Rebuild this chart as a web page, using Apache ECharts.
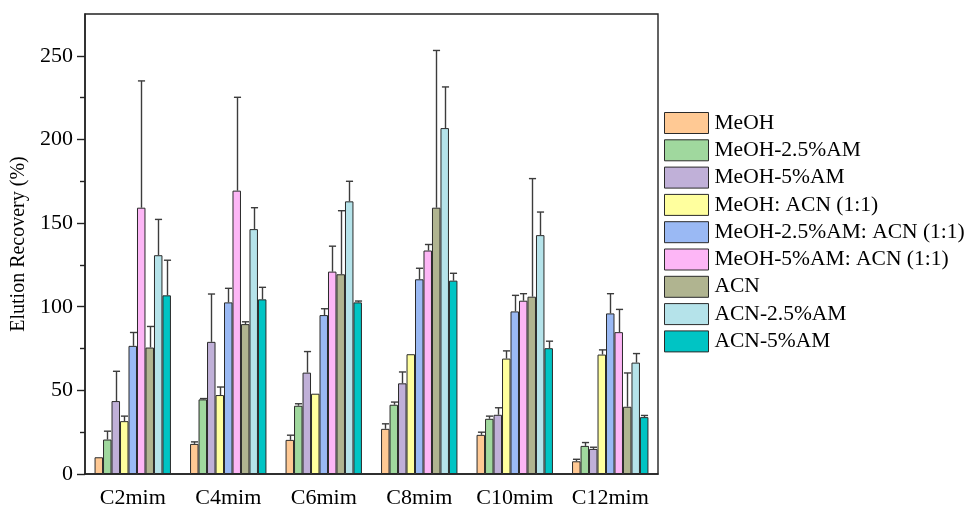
<!DOCTYPE html>
<html>
<head>
<meta charset="utf-8">
<script src="https://cdn.jsdelivr.net/npm/echarts@6/dist/echarts.min.js"></script>
<style>
  html, body { margin: 0; padding: 0; background: #fff; }
  #chart { width: 973px; height: 510px; }
</style>
</head>
<body>
<div id="chart"></div>
<script>
// Ionic-liquid categories on the x axis
const categories = ['C2mim', 'C4mim', 'C6mim', 'C8mim', 'C10mim', 'C12mim'];

// Elution solvents, one bar series each
const solventNames = [
  'MeOH', 'MeOH-2.5%AM', 'MeOH-5%AM', 'MeOH: ACN (1:1)',
  'MeOH-2.5%AM: ACN (1:1)', 'MeOH-5%AM: ACN (1:1)', 'ACN', 'ACN-2.5%AM', 'ACN-5%AM'
];

// Mean recovery (%) per solvent, in category order
const meoh          = [10.0, 18.0, 20.4, 27.0, 23.4, 7.6];
const meoh25        = [20.6, 44.6, 40.8, 41.4, 33.0, 16.8];
const meoh5         = [43.6, 79.0, 60.6, 54.2, 35.4, 15.0];
const meohAcn       = [31.6, 47.2, 48.0, 71.6, 69.0, 71.4];
const meoh25Acn     = [76.6, 102.6, 95.0, 116.4, 97.2, 96.0];
const meoh5Acn      = [159.2, 169.4, 121.0, 133.6, 103.6, 84.8];
const acn           = [75.6, 89.6, 119.4, 159.2, 106.0, 40.2];
const acn25         = [130.8, 146.4, 163.0, 206.8, 142.8, 66.6];
const acn5          = [106.8, 104.4, 102.6, 115.6, 75.2, 34.0];

// Standard deviations (upper error bars)
const meohErr       = [0, 1.2, 2.8, 3.0, 1.6, 1.2];
const meoh25Err     = [5.0, 0.5, 1.2, 1.6, 1.6, 2.0];
const meoh5Err      = [17.8, 28.6, 12.6, 6.8, 4.2, 1.0];
const meohAcnErr    = [3.0, 4.8, 0, 0, 4.6, 2.8];
const meoh25AcnErr  = [8.0, 8.4, 3.8, 6.6, 9.6, 11.8];
const meoh5AcnErr   = [75.8, 55.8, 15.2, 3.6, 4.2, 13.6];
const acnErr        = [12.6, 1.4, 38.0, 94.0, 70.6, 20.2];
const acn25Err      = [21.4, 12.8, 12.0, 24.6, 13.8, 5.4];
const acn5Err       = [21.0, 7.2, 0.8, 4.4, 4.2, 1.0];

// Y axis tick labels
const yMajorTicks = [0, 50, 100, 150, 200, 250];
const yMinorTicks = [25, 75, 125, 175, 225];

const means = [meoh, meoh25, meoh5, meohAcn, meoh25Acn, meoh5Acn, acn, acn25, acn5];
const errs  = [meohErr, meoh25Err, meoh5Err, meohAcnErr, meoh25AcnErr, meoh5AcnErr, acnErr, acn25Err, acn5Err];
const colors = ['#FFC994', '#A0D89E', '#C0B0D8', '#FFFF9E', '#9AB9F4', '#FDB6F6', '#B0B490', '#B5E3EA', '#00C4C4'];

const FONT = '"Liberation Serif", "DejaVu Serif", serif';
const N = solventNames.length;
const CATEGORY_GAP = 0.2;

const series = [];
solventNames.forEach((name, i) => {
  series.push({
    name: name,
    type: 'bar',
    data: means[i],
    barGap: '0%',
    barCategoryGap: (CATEGORY_GAP * 100) + '%',
    itemStyle: { color: colors[i], borderColor: '#2a2a2a', borderWidth: 1 },
    emphasis: { disabled: true },
    z: 2
  });
});

// Upper error bars, positioned over each bar inside its group
solventNames.forEach((name, i) => {
  series.push({
    name: name + ' err',
    type: 'custom',
    z: 3,
    silent: true,
    data: means[i].map((v, k) => [k, v, errs[i][k]]),
    renderItem: function (params, api) {
      const k = api.value(0);
      const v = api.value(1);
      const e = api.value(2);
      if (!e) return null;
      const band = api.size([1, 0])[0];
      const barW = band * (1 - CATEGORY_GAP) / N;
      const base = api.coord([k, v]);
      const top = api.coord([k, v + e]);
      const x = Math.round(base[0] - band * (1 - CATEGORY_GAP) / 2 + (i + 0.5) * barW) + 0.5;
      const half = barW * 0.42;
      const style = { stroke: '#3c3c3c', lineWidth: 1.4 };
      return {
        type: 'group',
        children: [
          { type: 'line', shape: { x1: x, y1: base[1], x2: x, y2: top[1] }, style: style },
          { type: 'line', shape: { x1: x - half, y1: top[1], x2: x + half, y2: top[1] }, style: style }
        ]
      };
    }
  });
});

const chart = echarts.init(document.getElementById('chart'), null, { renderer: 'canvas' });
chart.setOption({
  animation: false,
  backgroundColor: '#fff',
  textStyle: { fontFamily: FONT, color: '#000' },
  grid: {
    left: 85, right: 315, top: 14, bottom: 36,
    show: true, borderColor: '#222', borderWidth: 1.4, backgroundColor: 'transparent'
  },
  legend: {
    orient: 'vertical',
    left: 659,
    top: 107,
    itemWidth: 44,
    itemHeight: 21,
    itemGap: 5.3,
    icon: 'rect',
    data: solventNames,
    itemStyle: { borderColor: '#2a2a2a', borderWidth: 1 },
    textStyle: { fontFamily: FONT, fontSize: 21.5, color: '#000', lineHeight: 22, padding: [0, 0, 0, 1] }
  },
  xAxis: {
    type: 'category',
    data: categories,
    axisLine: { lineStyle: { color: '#222', width: 1.5 } },
    axisTick: { alignWithLabel: true, interval: 0, length: 8, lineStyle: { color: '#222', width: 1.4 } },
    axisLabel: { interval: 0, fontFamily: FONT, fontSize: 22, color: '#000', margin: 13 },
    splitLine: { show: false }
  },
  yAxis: [
    {
      type: 'value',
      min: 0, max: 275, interval: 50,
      name: 'Elution Recovery (%)',
      nameLocation: 'middle',
      nameGap: 52,
      nameTextStyle: { fontFamily: FONT, fontSize: 20, color: '#000' },
      axisLine: { show: true, lineStyle: { color: '#222', width: 1.5 } },
      axisTick: { show: true, length: 8, customValues: yMajorTicks, lineStyle: { color: '#222', width: 1.4 } },
      axisLabel: { fontFamily: FONT, fontSize: 22, color: '#000', margin: 12, customValues: yMajorTicks },
      splitLine: { show: false }
    },
    {
      type: 'value',
      min: 0, max: 275, interval: 25,
      position: 'left',
      axisLine: { show: false },
      axisTick: { show: true, length: 5, customValues: yMinorTicks, lineStyle: { color: '#222', width: 1.4 } },
      axisLabel: { show: false },
      splitLine: { show: false }
    }
  ],
  series: series
});
</script>
</body>
</html>
